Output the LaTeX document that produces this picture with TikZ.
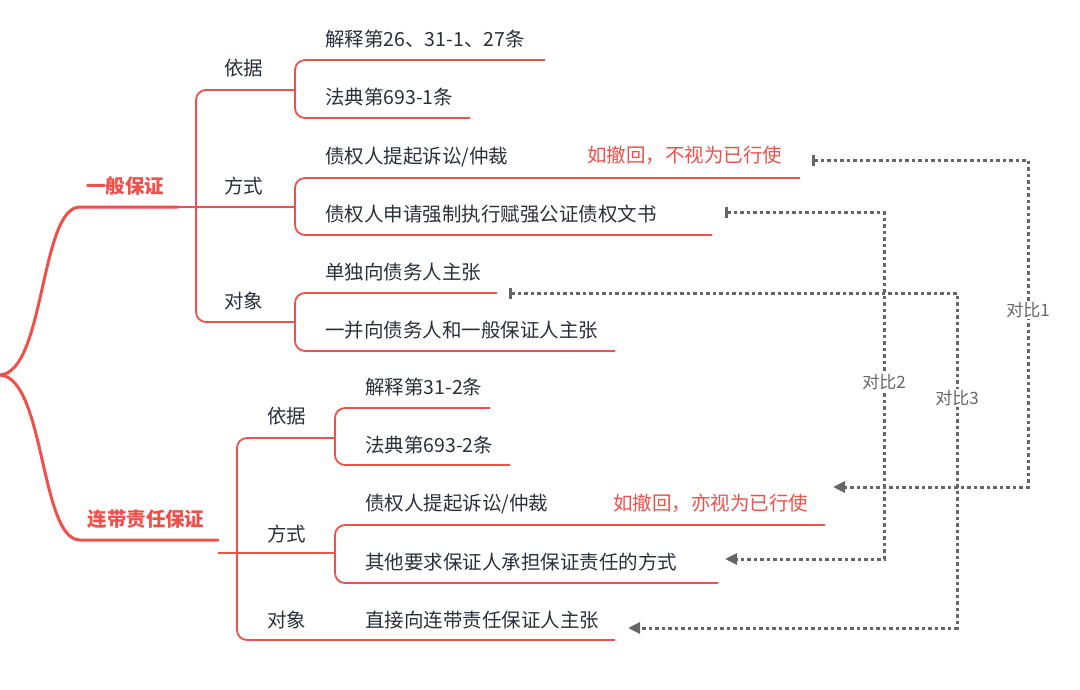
\documentclass[tikz,border=0pt]{standalone}
\usepackage{fontspec}
\setmainfont{Noto Sans CJK SC}
\usetikzlibrary{arrows.meta}
\definecolor{mapred}{HTML}{F0504A}
\definecolor{maptext}{HTML}{2B2F3A}
\definecolor{mapgray}{HTML}{666666}
\tikzset{
  branch/.style={draw=mapred, line width=3pt, line cap=round},
  twig/.style={draw=mapred, line width=1.8pt, rounded corners=10pt},
  topic/.style={text=mapred, font=\fontsize{19.5}{22}\selectfont\bfseries, inner sep=0pt},
  leaf/.style={text=maptext, font=\fontsize{19.5}{22}\selectfont, anchor=west, inner sep=0pt},
  note/.style={text=mapred, font=\fontsize{19.5}{22}\selectfont, anchor=west, inner sep=0pt},
  cmp/.style={draw=mapgray, line width=3pt, dash pattern=on 3.5pt off 3pt, {Bar[width=11pt,line width=3pt,sep=0pt]}-{Triangle[length=12pt,width=11pt,sep=0pt]}},
  cmplabel/.style={text=mapgray, fill=white, font=\fontsize{17}{19}\selectfont, inner sep=1pt}
}
\begin{document}
\begin{tikzpicture}[x=1pt, y=-1pt]
  \useasboundingbox (0,0) rectangle (1080,689);
  % main branches
  \draw[branch] (0,375) .. controls (45,372) and (40,207) .. (80,207) -- (178,207);
  \draw[branch] (0,375) .. controls (45,378) and (40,540) .. (80,540) -- (218,540);
  \node[topic] (gen) at (125,186) {一般保证};
  \node[topic] (joint) at (146,519) {连带责任保证};
  % first tree
  \draw[twig] (295,90) -- (196,90) -- (196,322) -- (295,322);
  \draw[twig] (178,207) -- (295,207);
  \node[leaf] (g1) at (224,68) {依据};
  \node[leaf] (g2) at (224,186) {方式};
  \node[leaf] (g3) at (224,301) {对象};
  \draw[twig] (545,60) -- (295,60) -- (295,118) -- (470,118);
  \draw[twig] (800,178) -- (295,178) -- (295,235) -- (712,235);
  \draw[twig] (497,293) -- (295,293) -- (295,351) -- (615,351);
  \node[leaf] (g11) at (325,39) {解释第26、31-1、27条};
  \node[leaf] (g12) at (325,97) {法典第693-1条};
  \node[leaf] (g21) at (325,157) {债权人提起诉讼/仲裁};
  \node[note] (g21n) at (587,155) {如撤回，不视为已行使};
  \node[leaf] (g22) at (325,214) {债权人申请强制执行赋强公证债权文书};
  \node[leaf] (g31) at (325,272) {单独向债务人主张};
  \node[leaf] (g32) at (325,330) {一并向债务人和一般保证人主张};
  % second tree
  \draw[twig] (335,438) -- (237,438) -- (237,640) -- (615,640);
  \draw[twig] (218,553) -- (335,553);
  \node[leaf] (j1) at (267,416) {依据};
  \node[leaf] (j2) at (267,534) {方式};
  \node[leaf] (j3) at (267,620) {对象};
  \draw[twig] (490,408) -- (335,408) -- (335,465) -- (510,465);
  \draw[twig] (825,525) -- (335,525) -- (335,583) -- (718,583);
  \node[leaf] (j11) at (365,387) {解释第31-2条};
  \node[leaf] (j12) at (365,445) {法典第693-2条};
  \node[leaf] (j21) at (365,504) {债权人提起诉讼/仲裁};
  \node[note] (j21n) at (613,503) {如撤回，亦视为已行使};
  \node[leaf] (j22) at (365,562) {其他要求保证人承担保证责任的方式};
  \node[leaf] (j31) at (365,620) {直接向连带责任保证人主张};
  % comparisons
  \coordinate (c1s) at (812,160);
  \coordinate (c1e) at (833,487);
  \coordinate (c2s) at (725,212);
  \coordinate (c2e) at (725,559);
  \coordinate (c3s) at (509,293);
  \coordinate (c3e) at (628,628);
  \draw[cmp] (c3s) -- (957,293) -- (957,628) -- (c3e);
  \draw[cmp] (c2s) -- (884,212) -- (884,559) -- (c2e);
  \draw[cmp] (c1s) -- (1028,160) -- (1028,487) -- (c1e);
  \node[cmplabel] (cmp1) at (1028,310) {对比1};
  \node[cmplabel] (cmp2) at (884,382) {对比2};
  \node[cmplabel] (cmp3) at (957,398) {对比3};
\end{tikzpicture}
\end{document}
